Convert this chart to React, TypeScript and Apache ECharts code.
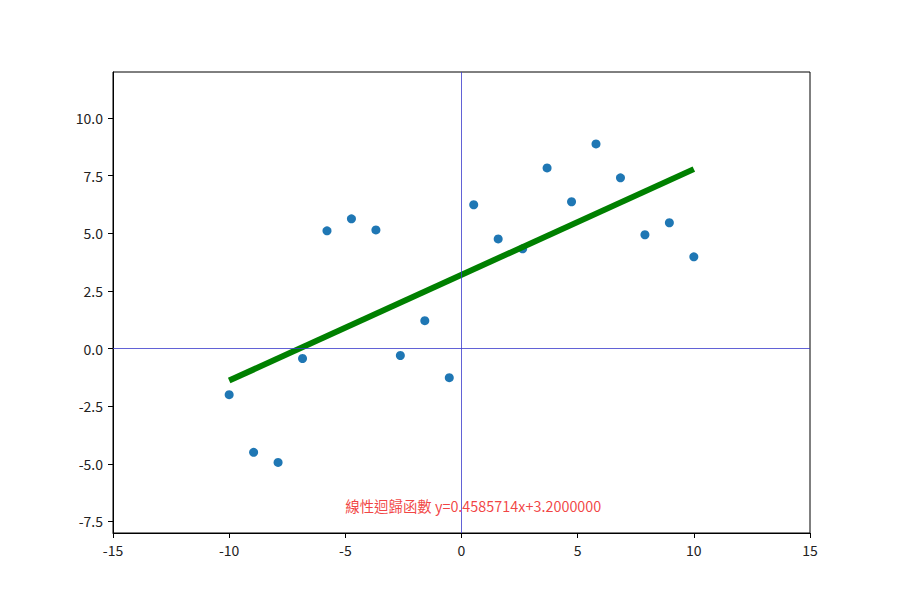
import { useEffect, useRef } from 'react'
import * as echarts from 'echarts'

// 散點資料 (x 由 -10 到 10 的 20 個點)
const xValues = [
  -10, -8.947, -7.895, -6.842, -5.789, -4.737, -3.684, -2.632, -1.579, -0.526,
  0.526, 1.579, 2.632, 3.684, 4.737, 5.789, 6.842, 7.895, 8.947, 10
]
const yValues = [
  -2.0, -4.5, -4.94, -0.43, 5.11, 5.63, 5.15, -0.3, 1.21, -1.26,
  6.24, 4.76, 4.33, 7.84, 6.37, 8.88, 7.41, 4.94, 5.46, 3.98
]

// 迴歸線端點
const fitX = [-10, 10]
const fitY = [-1.386, 7.786]

const xTicks = [-15, -10, -5, 0, 5, 10, 15]
const yTicks = [-7.5, -5.0, -2.5, 0.0, 2.5, 5.0, 7.5, 10.0]

const labelText = '線性迴歸函數 y=0.4585714x+3.2000000'
const labelPos = [-5, -7]

const font = '"Noto Sans CJK TC", "Noto Sans", sans-serif'

export default function App() {
  const chartRef = useRef<HTMLDivElement>(null)

  useEffect(() => {
    document.body.style.margin = '0'
    if (!chartRef.current) return
    const chart = echarts.init(chartRef.current, undefined, { renderer: 'svg' })

    const axisCommon = {
      axisLine: { show: true, onZero: false, lineStyle: { color: '#000', width: 1 } },
      axisTick: { show: true, inside: false, length: 5, lineStyle: { color: '#000' } },
      splitLine: { show: false },
      axisLabel: { color: '#222', fontSize: 14, fontFamily: font, margin: 10 }
    }

    const option: echarts.EChartsOption = {
      animation: false,
      backgroundColor: '#fff',
      grid: {
        left: 113, right: 90, top: 72, bottom: 67, containLabel: false,
        show: true, borderColor: '#000', borderWidth: 1
      },
      xAxis: {
        type: 'value',
        min: -15,
        max: 15,
        interval: 5,
        ...axisCommon,
        axisLabel: { ...axisCommon.axisLabel, customValues: xTicks, formatter: (v: number) => String(v) },
        axisTick: { ...axisCommon.axisTick, customValues: xTicks }
      } as any,
      yAxis: {
        type: 'value',
        min: -8,
        max: 12,
        ...axisCommon,
        axisLabel: { ...axisCommon.axisLabel, customValues: yTicks, formatter: (v: number) => v.toFixed(1) },
        axisTick: { ...axisCommon.axisTick, customValues: yTicks }
      } as any,
      series: [
        {
          type: 'line',
          data: [],
          silent: true,
          markLine: {
            silent: true,
            symbol: 'none',
            label: { show: false },
            lineStyle: { color: '#3a3acc', width: 0.8, type: 'solid' },
            data: [{ xAxis: 0 }, { yAxis: 0 }]
          }
        },
        {
          type: 'scatter',
          data: xValues.map((x, i) => [x, yValues[i]]),
          symbol: 'circle',
          symbolSize: 9,
          itemStyle: { color: '#1f77b4', opacity: 1 },
          z: 3
        },
        {
          type: 'line',
          data: fitX.map((x, i) => [x, fitY[i]]),
          showSymbol: false,
          symbol: 'none',
          lineStyle: { color: '#008000', width: 6 },
          z: 4
        },
        {
          type: 'scatter',
          data: [labelPos],
          symbolSize: 0,
          silent: true,
          label: {
            show: true,
            formatter: labelText,
            position: [0, 0],
            offset: [0, 3],
            align: 'left',
            verticalAlign: 'bottom',
            color: '#ee1111',
            fontSize: 14.4,
            fontFamily: font
          },
          z: 5
        }
      ]
    }

    chart.setOption(option)
    return () => {
      chart.dispose()
    }
  }, [])

  return <div ref={chartRef} style={{ width: '900px', height: '600px' }} />
}
